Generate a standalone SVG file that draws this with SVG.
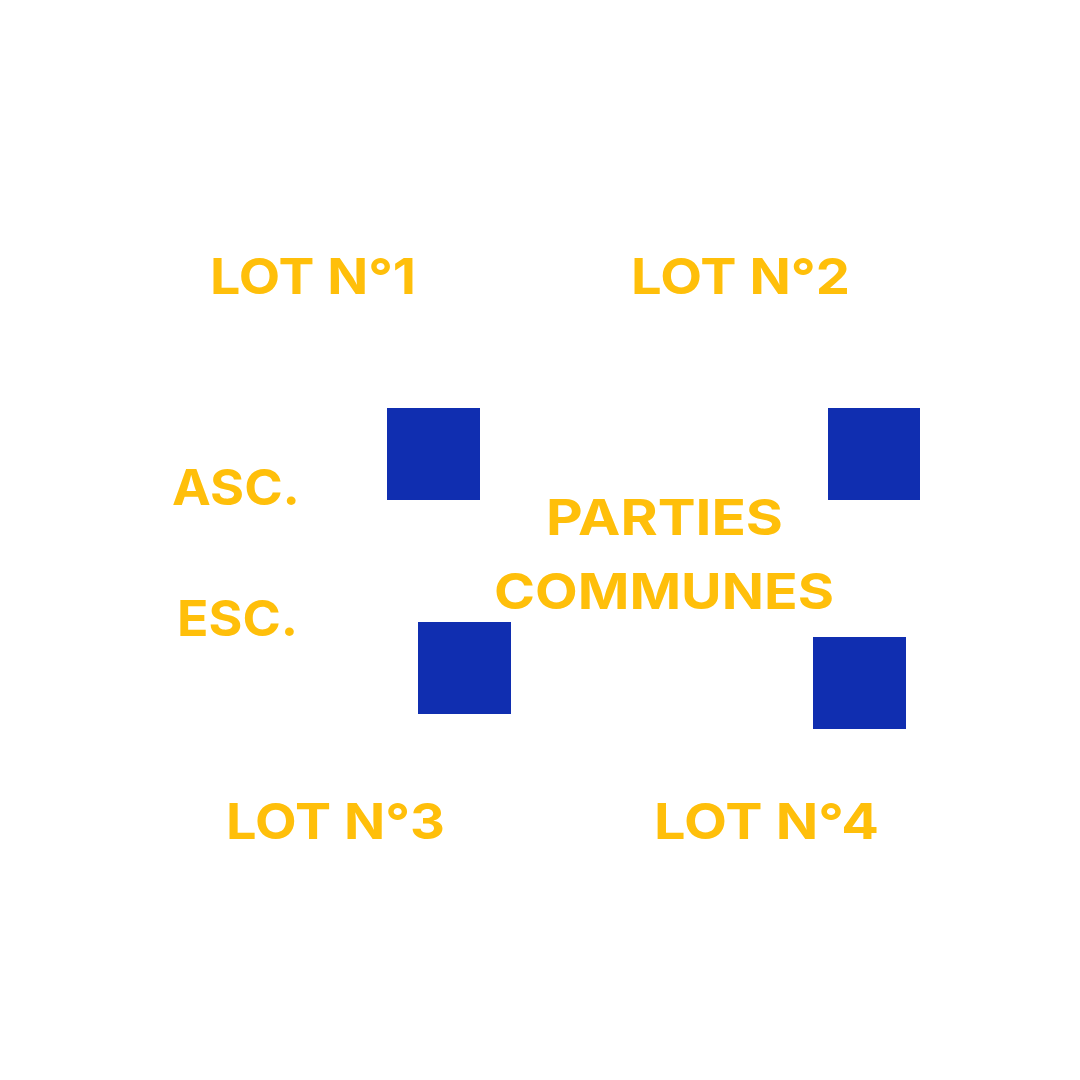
<svg xmlns="http://www.w3.org/2000/svg" width="1080" height="1080" viewBox="0 0 1080 1080">
<style>
.t{font-family:Inter,"Liberation Sans",sans-serif;font-weight:700;font-size:50px;fill:#FFBF0A}
.sq{fill:#102EB0}
</style>
<rect width="1080" height="1080" fill="#ffffff"/>
<g id="lot1"><text class="t" x="210" y="294" textLength="206" lengthAdjust="spacingAndGlyphs">LOT N°1</text></g>
<g id="lot2"><text class="t" x="631" y="294" textLength="219" lengthAdjust="spacingAndGlyphs">LOT N°2</text></g>
<g id="lot3"><text class="t" x="226" y="839" textLength="219" lengthAdjust="spacingAndGlyphs">LOT N°3</text></g>
<g id="lot4"><text class="t" x="654" y="839" textLength="225" lengthAdjust="spacingAndGlyphs">LOT N°4</text></g>
<g id="asc"><text class="t" x="172" y="505" textLength="128" lengthAdjust="spacingAndGlyphs">ASC.</text></g>
<g id="esc"><text class="t" x="177" y="636" textLength="121" lengthAdjust="spacingAndGlyphs">ESC.</text></g>
<g id="parties"><text class="t" x="546" y="535" textLength="237" lengthAdjust="spacingAndGlyphs">PARTIES</text>
<text class="t" x="494" y="609" textLength="340" lengthAdjust="spacingAndGlyphs">COMMUNES</text></g>
<g id="sq1"><rect class="sq" x="387" y="408" width="93" height="92"/></g>
<g id="sq2"><rect class="sq" x="828" y="408" width="92" height="92"/></g>
<g id="sq3"><rect class="sq" x="418" y="622" width="93" height="92"/></g>
<g id="sq4"><rect class="sq" x="813" y="637" width="93" height="92"/></g>
<g id="connectors"></g>
</svg>
